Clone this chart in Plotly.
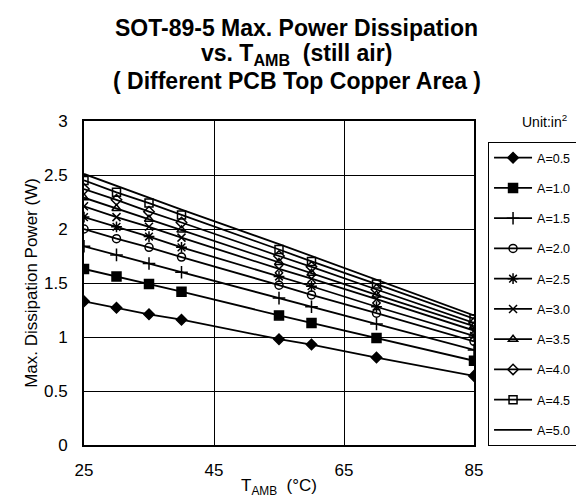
import plotly.graph_objects as go

temps = [25, 30, 35, 40, 55, 60, 70, 85]
areas = ["A=0.5", "A=1.0", "A=1.5", "A=2.0", "A=2.5", "A=3.0", "A=3.5", "A=4.0", "A=4.5", "A=5.0"]

p_a05 = [1.33, 1.27, 1.21, 1.16, 0.98, 0.93, 0.81, 0.64]
p_a10 = [1.63, 1.56, 1.49, 1.42, 1.20, 1.13, 0.99, 0.78]
p_a15 = [1.84, 1.76, 1.68, 1.60, 1.36, 1.28, 1.12, 0.88]
p_a20 = [2.00, 1.91, 1.83, 1.74, 1.48, 1.39, 1.22, 0.96]
p_a25 = [2.11, 2.02, 1.93, 1.83, 1.56, 1.47, 1.28, 1.01]
p_a30 = [2.21, 2.11, 2.02, 1.92, 1.63, 1.54, 1.35, 1.06]
p_a35 = [2.29, 2.19, 2.09, 1.99, 1.69, 1.59, 1.39, 1.10]
p_a40 = [2.37, 2.27, 2.16, 2.06, 1.75, 1.65, 1.44, 1.13]
p_a45 = [2.45, 2.34, 2.24, 2.13, 1.81, 1.70, 1.49, 1.17]
p_a50 = [2.51, 2.40, 2.29, 2.18, 1.86, 1.75, 1.53, 1.20]

series = [p_a05, p_a10, p_a15, p_a20, p_a25, p_a30, p_a35, p_a40, p_a45, p_a50]
symbols = ["diamond", "square", "cross-thin", "circle-open", "asterisk-open",
           "x-thin-open", "triangle-up-open", "diamond-open", "square-open", None]
sizes = [8, 9, 9, 8, 9, 8, 8, 8, 8, 0]

FONT = "Arial, Liberation Sans, sans-serif"

fig = go.Figure()
for name, vals, sym, sz in zip(areas, series, symbols, sizes):
    if sym is None:
        fig.add_trace(go.Scatter(x=temps, y=vals, name=name, mode="lines",
                                 line=dict(color="black", width=1.8),
                                 legendgroup=name))
    else:
        fig.add_trace(go.Scatter(x=temps, y=vals, name=name, mode="lines+markers",
                                 line=dict(color="black", width=1.8),
                                 marker=dict(symbol=sym, size=sz, color="black",
                                             line=dict(color="black", width=1.5)),
                                 legendgroup=name))

fig.update_layout(
    width=584, height=501,
    margin=dict(l=76, r=118, t=113, b=64, autoexpand=False),
    paper_bgcolor="white", plot_bgcolor="white",
    font=dict(family=FONT, color="black"),
    showlegend=True,
    legend=dict(x=1.036, xanchor="left", y=0.935, yanchor="top",
                bordercolor="black", borderwidth=1, bgcolor="white",
                font=dict(size=12.5, family=FONT), tracegroupgap=11,
                itemwidth=38, traceorder="grouped"),
    xaxis=dict(range=[25, 85], tickvals=[25, 45, 65, 85],
               showgrid=True, gridcolor="black", gridwidth=1,
               showline=True, linecolor="black", linewidth=2, mirror=True,
               zeroline=False, ticks="", tickfont=dict(size=17),
               ticklabelstandoff=9,
               title=dict(text="T<sub>AMB</sub>  (°C)", font=dict(size=17), standoff=0)),
    yaxis=dict(range=[0, 3], tickvals=[0, 0.5, 1, 1.5, 2, 2.5, 3],
               ticktext=["0", "0.5", "1", "1.5", "2", "2.5", "3"],
               showgrid=True, gridcolor="black", gridwidth=1,
               showline=True, linecolor="black", linewidth=2, mirror=True,
               zeroline=False, ticks="", tickfont=dict(size=17),
               ticklabelstandoff=11,
               title=dict(text="Max. Dissipation Power (W)", font=dict(size=17), standoff=2)),
)

title_lines = [
    ("SOT-89-5 Max. Power Dissipation", 1.287),
    ("vs. T<sub>AMB</sub>  (still air)", 1.2052),
    ("( Different PCB Top Copper Area )", 1.1235),
]
for txt, yy in title_lines:
    fig.add_annotation(text="<b>" + txt + "</b>", xref="paper", yref="paper",
                       x=0.546, y=yy, xanchor="center", yanchor="middle",
                       showarrow=False, borderpad=0, borderwidth=0,
                       font=dict(size=23, family=FONT))

fig.add_annotation(text="Unit:in<sup>2</sup>", xref="paper", yref="paper",
                   x=1.182, y=1.0, xanchor="center", yanchor="middle",
                   showarrow=False, font=dict(size=14, family=FONT))

fig.write_html("out.html")
